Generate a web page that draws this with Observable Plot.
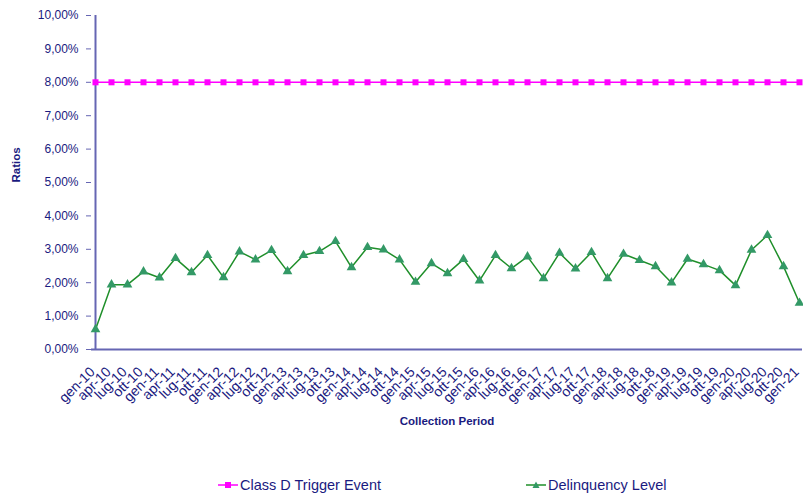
<!DOCTYPE html>
<html>
<head>
<meta charset="utf-8">
<script src="https://cdn.jsdelivr.net/npm/d3@7"></script>
<script src="https://cdn.jsdelivr.net/npm/@observablehq/plot@0.6"></script>
<style>
  body { margin: 0; background: #fff; font-family: "Liberation Sans", Arial, sans-serif; }
  #legend { position: relative; height: 23px; width: 803px; }
  .item { position: absolute; top: 2px; display: flex; align-items: center; font-size: 14.5px; color: #1a1a80; }
  .item svg { display: block; margin-right: 2px; }
</style>
</head>
<body>
<div id="chart"></div>
<div id="legend">
  <div class="item" style="left:218px"><svg width="20" height="10"><line x1="0" y1="5" x2="20" y2="5" stroke="#ff00ff" stroke-width="1.5"/><rect x="7" y="2" width="6" height="6" fill="#ff00ff"/></svg>Class D Trigger Event</div>
  <div class="item" style="left:526px"><svg width="20" height="10"><line x1="0" y1="5" x2="20" y2="5" stroke="#1f8f2a" stroke-width="1.5"/><path d="M10,1.5 L13.5,8 L6.5,8 Z" fill="#339966"/></svg>Delinquency Level</div>
</div>
<script>
const periods = ["gen-10","apr-10","lug-10","ott-10","gen-11","apr-11","lug-11","ott-11","gen-12","apr-12","lug-12","ott-12","gen-13","apr-13","lug-13","ott-13","gen-14","apr-14","lug-14","ott-14","gen-15","apr-15","lug-15","ott-15","gen-16","apr-16","lug-16","ott-16","gen-17","apr-17","lug-17","ott-17","gen-18","apr-18","lug-18","ott-18","gen-19","apr-19","lug-19","ott-19","gen-20","apr-20","lug-20","ott-20","gen-21"];
const delinquency = [0.60,1.94,1.94,2.33,2.15,2.73,2.31,2.82,2.16,2.93,2.69,2.97,2.34,2.82,2.94,3.24,2.46,3.06,2.99,2.69,2.02,2.58,2.28,2.70,2.06,2.82,2.43,2.78,2.13,2.89,2.42,2.91,2.13,2.86,2.67,2.49,2.00,2.71,2.55,2.37,1.92,2.98,3.42,2.49,1.39];
const trigger = periods.map(() => 8.00);
const yTicks = [0,1,2,3,4,5,6,7,8,9,10];

const dataD = periods.map((p, i) => ({period: p, value: delinquency[i] / 100}));
const dataT = periods.map((p, i) => ({period: p, value: trigger[i] / 100}));

const navy = "#1a1a80";
const axisColor = "#6666b3";
const fmt = d => (d * 100).toFixed(2).replace(".", ",") + "%";

const chart = Plot.plot({
  width: 803,
  height: 475,
  marginLeft: 91,
  marginRight: 1,
  marginTop: 15,
  marginBottom: 126,
  style: {fontFamily: "'Liberation Sans', Arial, sans-serif", color: navy, background: "#fff", overflow: "visible"},
  x: {type: "point", domain: periods, padding: 0, axis: null},
  y: {domain: [0, 0.10]},
  marks: [
    Plot.axisY({ticks: yTicks.map(d => d / 100), tickFormat: fmt, tickSize: 5, tickPadding: 8, stroke: axisColor, fill: navy, fontSize: 12, label: null}),
    Plot.text(periods, {x: d => d, frameAnchor: "bottom", rotate: -45, textAnchor: "end", lineAnchor: "middle", dx: -3, dy: 20, fontSize: 14, fill: navy}),
    Plot.ruleY([0], {stroke: axisColor, strokeWidth: 2}),
    Plot.ruleX([periods[0]], {y1: 0, y2: 0.10, stroke: axisColor, strokeWidth: 2}),
    Plot.line(dataT, {x: "period", y: "value", stroke: "#ff00ff", strokeWidth: 1.5}),
    Plot.dot(dataT, {x: "period", y: "value", symbol: "square", fill: "#ff00ff", r: 3.4}),
    Plot.line(dataD, {x: "period", y: "value", stroke: "#1f8f2a", strokeWidth: 1.5}),
    Plot.dot(dataD, {x: "period", y: "value", symbol: "triangle", fill: "#339966", r: 3.6}),
    Plot.text(["Collection Period"], {frameAnchor: "bottom", dy: 75, fontWeight: "bold", fontSize: 11.5, fill: navy}),
    Plot.text(["Ratios"], {frameAnchor: "left", dx: -75, rotate: -90, fontWeight: "bold", fontSize: 11.5, fill: navy})
  ]
});
document.getElementById("chart").appendChild(chart);
</script>
</body>
</html>
